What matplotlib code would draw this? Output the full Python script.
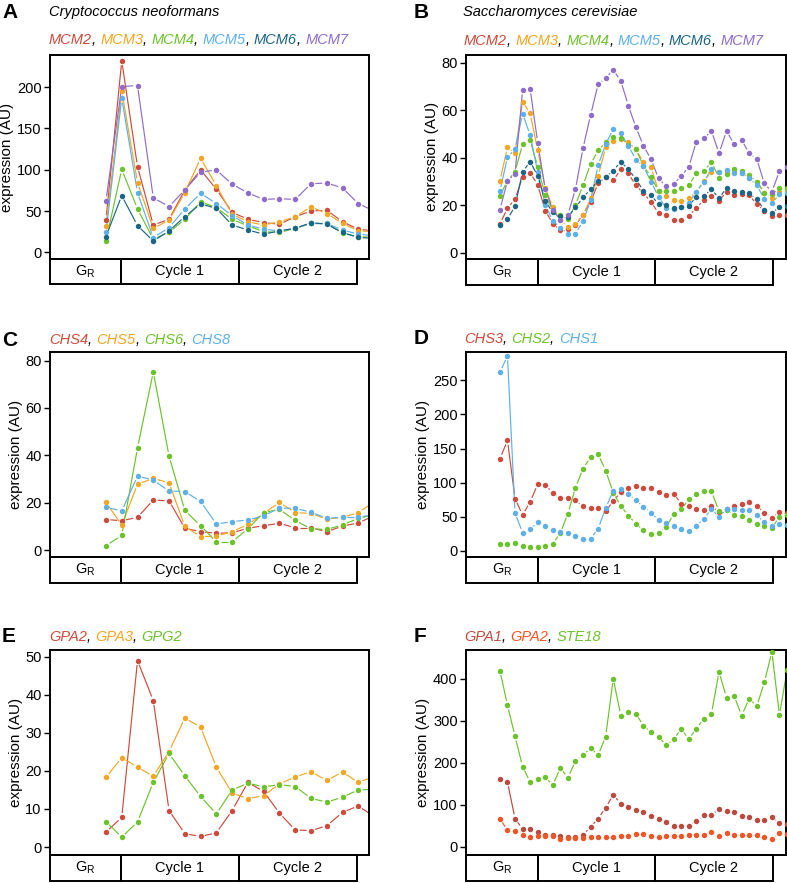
import numpy as np
import matplotlib
matplotlib.use("Agg")
import matplotlib.pyplot as plt
from matplotlib.collections import LineCollection
from matplotlib.patches import Rectangle

plt.rcParams['font.family'] = ['Liberation Sans', 'DejaVu Sans']

# ---- colours
RED = '#cc4b3c'
ORANGE = '#f2a623'
GREEN = '#6cc22b'
LBLUE = '#5eb0e8'
TEAL = '#1b6685'
PURPLE = '#8e6dca'
BROWN = '#bb4a3e'
ORRED = '#f25424'

# ---- time points (sample index)
cn_x = np.arange(18)   # Cryptococcus neoformans
sc_x = np.arange(39)   # Saccharomyces cerevisiae

# ---- A: C. neoformans MCM genes
cn_mcm2 = [39.6, 231.9, 103.8, 33.1, 40, 75.6, 99.8, 76.4, 48.5, 40, 36, 34, 43, 50, 51, 37, 28, 26]
cn_mcm3 = [32.3, 195, 84.4, 29, 39, 72.3, 114, 80.8, 46, 37, 33, 37, 43, 55, 47, 35, 26, 25]
cn_mcm4 = [14.1, 100.6, 52.5, 16, 24.2, 40, 61.4, 54.1, 40, 32, 25, 24, 29, 35, 35, 23, 19, 18]
cn_mcm5 = [24.2, 186.7, 72.3, 17.8, 29.9, 52.5, 71.5, 59, 44.4, 33, 28, 26, 29, 35, 35, 27, 22, 20]
cn_mcm6 = [19, 68.7, 32.3, 13.7, 25.9, 43.2, 58.6, 53.3, 33.1, 27, 22, 26, 29, 36, 34, 24, 18, 17]
cn_mcm7 = [62.6, 200.8, 202, 65.9, 55.4, 75.6, 97, 99.8, 82.4, 72, 64, 65, 64, 83, 84, 78, 59, 50]

# ---- B: S. cerevisiae MCM genes
sc_mcm2 = [12, 18.7, 22.5, 31.8, 33.6, 28.5, 17.7, 12.2, 9.4, 9.8, 11.5, 16, 21.4, 29.1, 31.9, 30.4,
           35, 33.3, 28.3, 24.9, 21.4, 16.5, 16, 13.9, 13.8, 15.5, 18.7, 22.2, 23.9, 21.9, 25.6, 24.2,
           24.5, 24.2, 20.3, 17.6, 15.5, 15.8, 16]
sc_mcm3 = [30.2, 44.3, 41.8, 63.6, 58.6, 43.2, 27.3, 19, 13.6, 10.8, 12, 15.7, 22.8, 32.3, 44.3, 47.1,
           47.7, 46.4, 43.5, 38, 35.9, 25.9, 23.8, 22.1, 21.7, 22.8, 25.6, 30.1, 34, 34, 33.8, 34,
           33.3, 31.2, 29.8, 25.2, 23.1, 25.3, 26]
sc_mcm4 = [23.9, 30.2, 34, 45.6, 47.4, 36.1, 24.2, 17.6, 15.8, 14.3, 20, 28.4, 37.3, 43, 46.5, 48.6,
           48.2, 45.5, 43.5, 36.5, 31.9, 25.9, 25.9, 26, 27, 28.4, 33.3, 34.5, 38, 31.6, 33, 35,
           34.5, 32.5, 29.8, 25.2, 24.5, 27, 27]
sc_mcm5 = [25.9, 40.2, 43.6, 58.5, 49.5, 34, 20, 13.4, 10.5, 8, 8, 13.2, 22, 36.8, 45.6, 52,
           50.2, 45, 39, 36.4, 29.8, 23.5, 18.6, 18.3, 19.3, 21, 25.6, 29.8, 35.2, 34, 34.7, 33.3,
           33.6, 31.2, 28.4, 22.5, 20.7, 24.5, 25]
sc_mcm6 = [11.8, 14.1, 19.5, 34, 38.3, 32.3, 21.7, 16.9, 15.3, 15, 19, 23.2, 26.7, 30.2, 31.9, 34.5,
           38.3, 35, 30.9, 26, 24.2, 20.3, 20, 18.8, 19.3, 19.7, 23.5, 23.8, 26.7, 22.8, 27.3, 25.9,
           25.6, 24.9, 22.4, 17.9, 16.5, 19.3, 19.5]
sc_mcm7 = [18.1, 30.2, 33.2, 68.5, 68.9, 46.3, 26.6, 17.9, 13.6, 16, 26.7, 44, 57.9, 70.9, 73.4, 76.9,
           72.3, 61.9, 52.7, 45, 39.2, 31.2, 28, 28.8, 32.3, 36.1, 46.7, 48.1, 51.2, 41.8, 51.2, 45.6,
           47.4, 41.8, 39.4, 29.1, 25.6, 34.3, 36]

# ---- C: C. neoformans chitin synthases
cn_chs4 = [13, 12.5, 13.9, 21.2, 20.9, 9.3, 7.9, 7.2, 7.4, 9.3, 10.4, 11.4, 9.5, 9.5, 7.9, 10.2, 11.6, 14.5]
cn_chs5 = [20.2, 10.7, 27.9, 30.3, 28.5, 10.2, 5.8, 6, 7.9, 10.9, 15.6, 20.2, 15.9, 15.6, 13.1, 14, 15.8, 20.5]
cn_chs6 = [2, 6.3, 43.2, 75.2, 39.7, 16.8, 10.4, 3.6, 3.6, 9.1, 15.9, 17.3, 12.6, 9.1, 8.8, 10.7, 13.5, 15]
cn_chs8 = [18.2, 16.6, 31.3, 29.6, 25, 24.8, 20.6, 11.1, 12.1, 12.8, 14.6, 17.8, 17.7, 16.1, 13.5, 14, 14, 15]

# ---- D: S. cerevisiae chitin synthases
sc_chs3 = [135, 162, 76.7, 52.7, 71.8, 97.7, 96.2, 85.4, 78.1, 78.1, 74.2, 65.4, 63.5, 63, 58.1, 73.2,
           85.9, 92.3, 95.2, 92.3, 92.8, 86.4, 81.5, 84, 69.3, 66.4, 61, 60.5, 65.9, 56.6, 61, 65.9,
           69.3, 71.8, 65.9, 56.2, 48.8, 57.1, 55]
sc_chs2 = [9.8, 9.8, 11.2, 7.3, 5.9, 5.9, 6.8, 10.7, 26.4, 54.7, 92.8, 120.6, 137.7, 141.6, 117.7, 85.4,
           65.9, 51.8, 40, 30.3, 25.4, 26.9, 35.2, 53.7, 61, 75.7, 83, 87.9, 87.4, 58.1, 60.5, 52.7,
           50.8, 45.9, 40, 36.1, 34.2, 49.8, 52]
sc_chs1 = [262, 285.6, 56, 26.4, 31.7, 42, 36.1, 31.2, 27.8, 26.4, 22, 18, 18, 32.7, 63, 87.9,
           90.8, 83.5, 74.2, 64.5, 55.7, 44.9, 41.5, 36.6, 31.7, 29.3, 36.6, 47.4, 61.5, 49.8, 62, 61,
           60.5, 59.6, 52.2, 42, 36.6, 40, 38]

# ---- E: C. neoformans G-protein genes
cn_gpa2 = [3.9, 7.8, 49, 38.5, 9.6, 3.5, 2.8, 3.7, 9.6, 17, 14.6, 8.9, 4.5, 4.3, 5.6, 9.1, 10.8, 8]
cn_gpa3 = [18.3, 23.5, 21, 18.6, 25.1, 33.9, 31.5, 21, 14.2, 12.7, 13.5, 16.6, 18.4, 19.8, 17.5, 19.7, 17, 18.5]
cn_gpg2 = [6.7, 2.6, 6.6, 17, 24.6, 18.7, 13.3, 8.7, 15, 16.8, 15.8, 16.4, 15.9, 12.8, 11.8, 13.1, 15, 15.2]

# ---- F: S. cerevisiae G-protein genes
sc_gpa1 = [162, 154, 66.7, 42, 42.9, 35, 27, 27, 24.6, 23, 22, 28.6, 46.8, 66.7, 92.9, 123,
           102.4, 94.4, 88, 83.3, 72.2, 65.9, 57.9, 50, 50, 50, 61.9, 74.6, 74.6, 89.7, 85.7, 81.7,
           73.8, 70.6, 62.7, 64.3, 70.6, 57.1, 55]
sc_gpa2 = [66.7, 38.9, 36.5, 27, 22.2, 24.6, 26.2, 24.6, 19, 20.6, 20.6, 20.6, 22.2, 22.2, 22.2, 22.2,
           26.2, 26.2, 31, 30.2, 26.2, 23, 24.6, 24.6, 26.2, 27, 27, 28.6, 34.1, 26.2, 32.5, 28.6,
           28.6, 28.6, 28.6, 23, 19, 31.7, 29]
sc_ste18 = [419, 336.5, 262.7, 190.5, 154, 160.3, 165.9, 146, 188, 163.5, 204.8, 217.5, 235, 217.5, 262, 400,
            312, 321.4, 316, 288, 272, 262, 241, 256, 280, 256, 281, 304.8, 316.7, 415.9, 354.8, 358.7,
            312, 352.4, 334, 391.3, 463.5, 312.7, 420]

# ---- cell-cycle phases (in sample-index units)
phase_labels = [r'G$_\mathregular{R}$', 'Cycle 1', 'Cycle 2']
cn_phase_edges = [-3.55, 0.93, 8.43, 15.9]
sc_phase_edges = [-4.49, 5.02, 20.5, 36.1]
cn_xlim = (-3.55, 16.68)
sc_xlim = (-4.49, 37.8)

W, H = 787, 883
fig = plt.figure(figsize=(W / 100, H / 100), dpi=100)


def box(l, t, r, b):
    return [l / W, 1 - b / H, (r - l) / W, (b - t) / H]


def make_axes(l, t, r, b, xlim, ylim, yticks):
    ax = fig.add_axes(box(l, t, r, b))
    ax.set_xlim(*xlim)
    ax.set_ylim(*ylim)
    ax.set_xticks([])
    ax.set_yticks(yticks)
    ax.tick_params(axis='y', labelsize=10.5, length=4, width=1, pad=2)
    for s in ax.spines.values():
        s.set_linewidth(1.4)
    ax.set_ylabel('expression (AU)', fontsize=11, labelpad=2)
    return ax


def draw_series(ax, x, y, color, gap=4.4):
    # points joined by segments that stop short of each point
    pts = ax.transData.transform(np.column_stack([x, y]))
    inv = ax.transData.inverted()
    segs = []
    for p, q in zip(pts[:-1], pts[1:]):
        d = q - p
        L = np.hypot(*d)
        if L > 2 * gap:
            u = d / L
            segs.append(inv.transform([p + u * gap, q - u * gap]))
    ax.add_collection(LineCollection(segs, colors=color, linewidths=0.85, zorder=2))
    ax.plot(x, y, 'o', ms=3.9, color=color, mew=0, zorder=3)


def phase_bar(l, t, r, b, xlim, edges):
    pax = fig.add_axes(box(l, t, r, b))
    pax.set_xlim(*xlim)
    pax.set_ylim(0, 1)
    pax.axis('off')
    for a, c, lab in zip(edges[:-1], edges[1:], phase_labels):
        pax.add_patch(Rectangle((a, 0), c - a, 1, fill=False, ec='black', lw=1.4, clip_on=False))
        pax.text((a + c) / 2, 0.5, lab, ha='center', va='center', fontsize=10.5)


def colored_line(x_px, y_px, names, colors, size=10.5):
    r = fig.canvas.get_renderer()
    x = x_px
    for i, (n, c) in enumerate(zip(names, colors)):
        parts = [(n, c)] + ([(', ', 'black')] if i < len(names) - 1 else [])
        for s, col in parts:
            t = fig.text(x / W, 1 - y_px / H, s, color=col, fontsize=size, style='italic',
                         ha='left', va='center')
            x += t.get_window_extent(renderer=r).width


def panel_letter(x_px, y_px, s):
    fig.text(x_px / W, 1 - y_px / H, s, fontsize=15, fontweight='bold', ha='left', va='center')


LX = (50, 369)
RX = (466, 785.5)

# ---- A
axA = make_axes(LX[0], 55, LX[1], 259, cn_xlim, (-8.1, 239), [0, 50, 100, 150, 200])
for yv, c in zip([cn_mcm2, cn_mcm3, cn_mcm4, cn_mcm5, cn_mcm6, cn_mcm7],
                 [RED, ORANGE, GREEN, LBLUE, TEAL, PURPLE]):
    draw_series(axA, cn_x, yv, c)
phase_bar(LX[0], 259, LX[1], 284, cn_xlim, cn_phase_edges)
panel_letter(2, 13, 'A')
fig.text(49 / W, 1 - 12 / H, 'Cryptococcus neoformans', fontsize=10.5, style='italic', va='center')
colored_line(49, 40, ['MCM2', 'MCM3', 'MCM4', 'MCM5', 'MCM6', 'MCM7'],
             [RED, ORANGE, GREEN, LBLUE, TEAL, PURPLE])

# ---- B
axB = make_axes(RX[0], 55, RX[1], 258.5, sc_xlim, (-2.5, 83.2), [0, 20, 40, 60, 80])
for yv, c in zip([sc_mcm2, sc_mcm3, sc_mcm4, sc_mcm5, sc_mcm6, sc_mcm7],
                 [RED, ORANGE, GREEN, LBLUE, TEAL, PURPLE]):
    draw_series(axB, sc_x, yv, c)
phase_bar(RX[0], 258.5, RX[1], 285, sc_xlim, sc_phase_edges)
panel_letter(414, 13, 'B')
fig.text(463 / W, 1 - 12 / H, 'Saccharomyces cerevisiae', fontsize=10.5, style='italic', va='center')
colored_line(464, 41, ['MCM2', 'MCM3', 'MCM4', 'MCM5', 'MCM6', 'MCM7'],
             [RED, ORANGE, GREEN, LBLUE, TEAL, PURPLE])

# ---- C
axC = make_axes(LX[0], 352, LX[1], 557, cn_xlim, (-2.8, 83.6), [0, 20, 40, 60, 80])
for yv, c in zip([cn_chs4, cn_chs5, cn_chs6, cn_chs8], [RED, ORANGE, GREEN, LBLUE]):
    draw_series(axC, cn_x, yv, c)
phase_bar(LX[0], 557, LX[1], 583, cn_xlim, cn_phase_edges)
panel_letter(2, 340, 'C')
colored_line(49, 340, ['CHS4', 'CHS5', 'CHS6', 'CHS8'], [RED, ORANGE, GREEN, LBLUE])

# ---- D
axD = make_axes(RX[0], 352, RX[1], 557, sc_xlim, (-8.8, 291.4), [0, 50, 100, 150, 200, 250])
for yv, c in zip([sc_chs3, sc_chs2, sc_chs1], [RED, GREEN, LBLUE]):
    draw_series(axD, sc_x, yv, c)
phase_bar(RX[0], 557, RX[1], 583, sc_xlim, sc_phase_edges)
panel_letter(414, 339, 'D')
colored_line(464, 339, ['CHS3', 'CHS2', 'CHS1'], [RED, GREEN, LBLUE])

# ---- E
axE = make_axes(LX[0], 650, LX[1], 855, cn_xlim, (-2.1, 51.8), [0, 10, 20, 30, 40, 50])
for yv, c in zip([cn_gpa2, cn_gpa3, cn_gpg2], [RED, ORANGE, GREEN]):
    draw_series(axE, cn_x, yv, c)
phase_bar(LX[0], 855, LX[1], 881, cn_xlim, cn_phase_edges)
panel_letter(2, 637, 'E')
colored_line(49, 637, ['GPA2', 'GPA3', 'GPG2'], [RED, ORANGE, GREEN])

# ---- F
axF = make_axes(RX[0], 650, RX[1], 855, sc_xlim, (-19.8, 468), [0, 100, 200, 300, 400])
for yv, c in zip([sc_gpa1, sc_gpa2, sc_ste18], [BROWN, ORRED, GREEN]):
    draw_series(axF, sc_x, yv, c)
phase_bar(RX[0], 855, RX[1], 881, sc_xlim, sc_phase_edges)
panel_letter(414, 637, 'F')
colored_line(464, 637, ['GPA1', 'GPA2', 'STE18'], [BROWN, ORRED, GREEN])

fig.savefig('out.png', dpi=100)
